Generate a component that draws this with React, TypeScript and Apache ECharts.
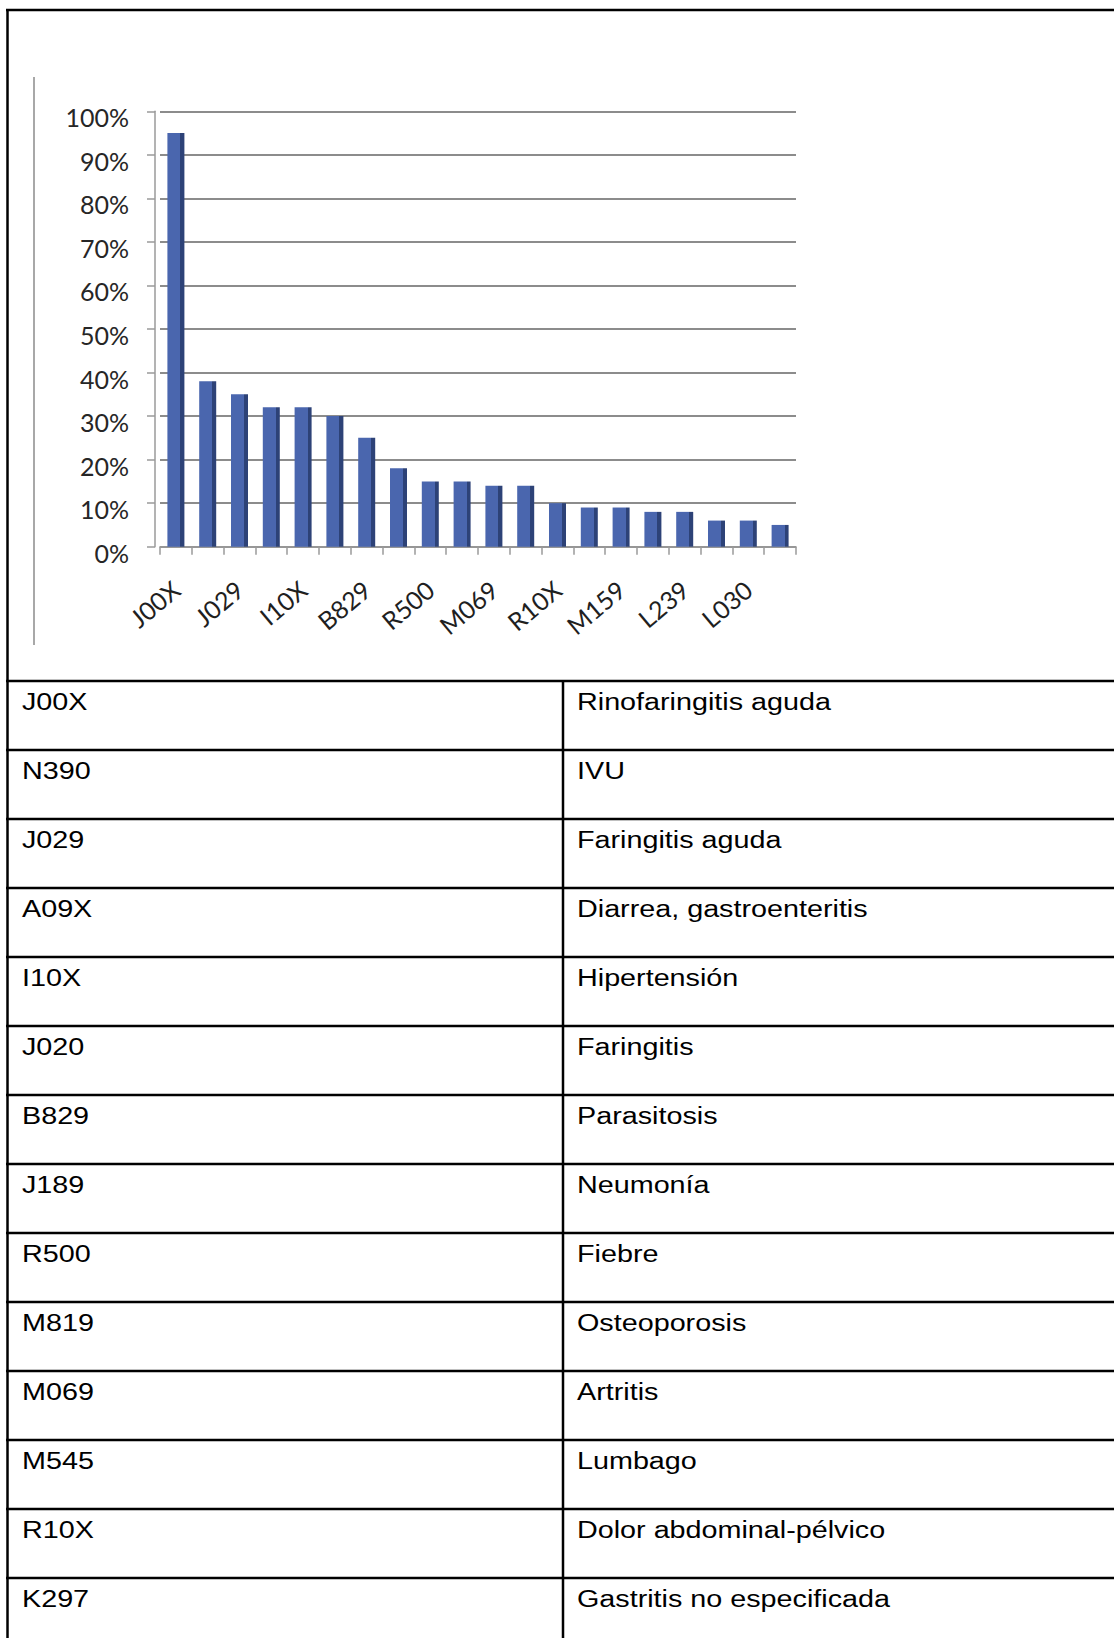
import React, { useEffect, useRef } from "react";
import * as echarts from "echarts";

// Bar chart data (percent of consultations)
const categories = [
  "J00X", "N390", "J029", "A09X", "I10X", "J020", "B829", "J189", "R500", "M819",
  "M069", "M545", "R10X", "K297", "M159", "", "L239", "", "L030", "",
];
const values = [95, 38, 35, 32, 32, 30, 25, 18, 15, 15, 14, 14, 10, 9, 9, 8, 8, 6, 6, 5];
const yMin = 0;
const yMax = 100;
const yStep = 10;

// Table below the chart
const tableCodes = [
  "J00X", "N390", "J029", "A09X", "I10X", "J020", "B829", "J189", "R500", "M819",
  "M069", "M545", "R10X", "K297",
];
const tableDescriptions = [
  "Rinofaringitis aguda", "IVU", "Faringitis aguda", "Diarrea, gastroenteritis",
  "Hipertensión", "Faringitis", "Parasitosis", "Neumonía", "Fiebre", "Osteoporosis",
  "Artritis", "Lumbago", "Dolor abdominal-pélvico", "Gastritis no especificada",
];

const W = 1114;
const H = 1638;

export default function App() {
  const ref = useRef<HTMLDivElement>(null);

  useEffect(() => {
    document.body.style.margin = "0";
    if (!ref.current) return;
    const chart = echarts.init(ref.current, undefined, { renderer: "svg" });

    const tableTop = 681;
    const rowH = 69;
    const divX = 563;
    const border = "#000";
    const graphic: any[] = [];
    // outer frame
    graphic.push({ type: "line", shape: { x1: 6, y1: 10, x2: W + 5, y2: 10 }, style: { stroke: border, lineWidth: 2.5 } });
    graphic.push({ type: "line", shape: { x1: 7.5, y1: 9, x2: 7.5, y2: H + 5 }, style: { stroke: border, lineWidth: 2.5 } });
    // chart object left edge
    graphic.push({ type: "line", shape: { x1: 34, y1: 77, x2: 34, y2: 645 }, style: { stroke: "#a8a8a8", lineWidth: 2 } });
    // table
    const textStyle = { fontSize: 23, fontFamily: "Liberation Sans, Arial", fill: "#000", align: "left", verticalAlign: "middle" };
    tableCodes.forEach((code, i) => {
      const y = tableTop + i * rowH;
      graphic.push({ type: "line", shape: { x1: 6, y1: y, x2: W + 5, y2: y }, style: { stroke: border, lineWidth: 2.5 } });
      graphic.push({ type: "text", x: 22, y: y + 21, scaleX: 1.25, style: { ...textStyle, text: code } });
      graphic.push({ type: "text", x: 577, y: y + 21, scaleX: 1.25, style: { ...textStyle, text: tableDescriptions[i] } });
    });
    graphic.push({ type: "line", shape: { x1: divX, y1: tableTop, x2: divX, y2: H + 5 }, style: { stroke: border, lineWidth: 2.5 } });

    chart.setOption({
      animation: false,
      backgroundColor: "#fff",
      grid: { left: 160, top: 111.3, width: 636, height: 435.4, containLabel: false },
      xAxis: {
        type: "category",
        data: categories,
        offset: 3,
        axisLine: { lineStyle: { color: "#9a9a9a", width: 1.5 } },
        axisTick: { show: true, interval: 0, length: 8, lineStyle: { color: "#9a9a9a", width: 1.5 } },
        axisLabel: {
          interval: 1,
          rotate: 40,
          margin: 36,
          fontSize: 25,
          fontFamily: "Lato",
          color: "#1f1f1f",
        },
      },
      yAxis: {
        type: "value",
        min: yMin,
        max: yMax,
        interval: yStep,
        offset: 5,
        axisLine: { show: true, lineStyle: { color: "#9a9a9a", width: 1.5 } },
        axisTick: { show: true, length: 8, lineStyle: { color: "#9a9a9a", width: 1.5 } },
        axisLabel: {
          formatter: (v: number) => `${v}%`,
          margin: 26,
          fontSize: 25,
          fontFamily: "Lato",
          color: "#262626",
          verticalAlign: "top",
          lineHeight: 12,
        },
        splitLine: { show: true, lineStyle: { color: "#8c8c8c", width: 2 } },
      },
      series: [
        {
          type: "bar",
          data: values,
          barWidth: 17,
          itemStyle: {
            color: new echarts.graphic.LinearGradient(0, 0, 1, 0, [
              { offset: 0, color: "#4a66ae" },
              { offset: 0.77, color: "#4a66ae" },
              { offset: 0.77, color: "#2d4277" },
              { offset: 1, color: "#2d4277" },
            ]),
          },
        },
      ],
      graphic,
    });
    return () => chart.dispose();
  }, []);

  return <div ref={ref} style={{ width: W, height: H, position: "absolute", left: 0, top: 0 }} />;
}
